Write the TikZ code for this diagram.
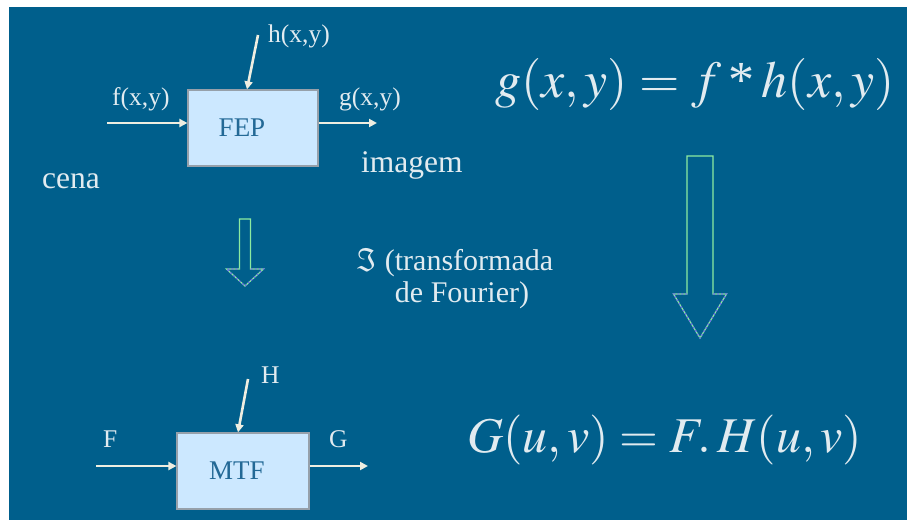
\documentclass[tikz,border=0pt]{standalone}
\usepackage{mathptmx}
\usepackage{fontspec}
\setmainfont{Liberation Serif}
\usetikzlibrary{arrows.meta}

\definecolor{slide}{RGB}{0,95,140}
\definecolor{boxfill}{RGB}{204,232,255}
\definecolor{boxline}{RGB}{150,160,170}
\definecolor{wire}{RGB}{238,238,225}
\definecolor{ink}{RGB}{225,235,240}
\definecolor{boxink}{RGB}{35,105,150}
\definecolor{hollow}{RGB}{140,235,160}
\definecolor{hollowtip}{RGB}{110,110,230}

\tikzset{
  block/.style={draw=boxline,line width=1.2pt,fill=boxfill,text=boxink,
    minimum width=130pt,minimum height=76pt,inner sep=0pt,
    font=\fontsize{27}{30}\selectfont},
  lbl/.style={text=ink,inner sep=0pt,anchor=base west,
    font=\fontsize{25.5}{28}\selectfont},
  bigtxt/.style={text=ink,inner sep=0pt,anchor=base west,
    font=\fontsize{31.5}{34}\selectfont},
  eqn/.style={text=ink,inner sep=0pt,anchor=base west,
    font=\fontsize{52}{60}\selectfont},
  sig/.style={draw=wire,line width=2.6pt,-{Triangle[length=8pt,width=8pt]}},
}

\begin{document}
\begin{tikzpicture}[x=1pt,y=-1pt]
  \fill[white] (0,0) rectangle (907,522);
  \fill[slide] (9,7) rectangle (907,520);

  % spatial domain
  \node[block] (fep) at (253,128) {FEP\hspace*{22pt}};
  \coordinate (fin) at (107,123);
  \coordinate (fout) at (377,123);
  \coordinate (hin) at (258,35);
  \draw[sig] (fin) -- (fin-|fep.west);
  \draw[sig] (fin-|fep.east) -- (fout);
  \draw[sig] (hin) -- ([xshift=-6pt]fep.north);
  \node[lbl] (hlbl) at (268,42) {h(x,y)};
  \node[lbl] (flbl) at (112,105) {f(x,y)};
  \node[lbl] (glbl) at (339,105) {g(x,y)};
  \node[bigtxt] (cena) at (42,188) {cena};
  \node[bigtxt] (imagem) at (361,172) {imagem};

  % frequency domain
  \node[block,minimum width=132pt] (mtf) at (243,471) {MTF\hspace*{12pt}};
  \coordinate (Fin) at (96,466);
  \coordinate (Gout) at (368,466);
  \coordinate (Hin) at (248,379);
  \draw[sig] (Fin) -- (Fin-|mtf.west);
  \draw[sig] (Fin-|mtf.east) -- (Gout);
  \draw[sig] (Hin) -- ([xshift=-5pt]mtf.north);
  \node[lbl] (Hlbl) at (261,383) {H};
  \node[lbl] (Flbl) at (103,447) {F};
  \node[lbl] (Glbl) at (329,447) {G};

  % hollow arrows
  \foreach \cx/\top/\sw/\sb/\hw/\tp in {245/219/5.5/269/18.5/286,
      700/156/13/294/26.5/338} {
    \draw[hollow,line width=1.2pt] (\cx-\sw,\sb) -- (\cx-\sw,\top)
      -- (\cx+\sw,\top) -- (\cx+\sw,\sb) -- (\cx+\hw,\sb) -- (\cx,\tp)
      -- (\cx-\hw,\sb) -- cycle;
    \draw[hollowtip,line width=1.2pt,dash pattern=on 2pt off 2pt]
      (\cx+\sw,\sb) -- (\cx+\hw,\sb) -- (\cx,\tp) -- (\cx-\hw,\sb)
      -- (\cx-\sw,\sb);
  }
  \node[bigtxt,anchor=base,font=\fontsize{30}{34}\selectfont] (four1)
    at (455,270) {$\Im$ (transformada};
  \node[bigtxt,anchor=base,font=\fontsize{30}{34}\selectfont] (four2)
    at (462,302) {de Fourier)};

  % equations
  \node[eqn] (conv) at (495,97) {$g(x,y)=f\mathbin{\mbox{*}}h(x,y)$};
  \node[eqn,font=\fontsize{50}{58}\selectfont] (prod) at (467,452)
    {$G(u,v)=F.\,H(u,v)$};
\end{tikzpicture}
\end{document}
